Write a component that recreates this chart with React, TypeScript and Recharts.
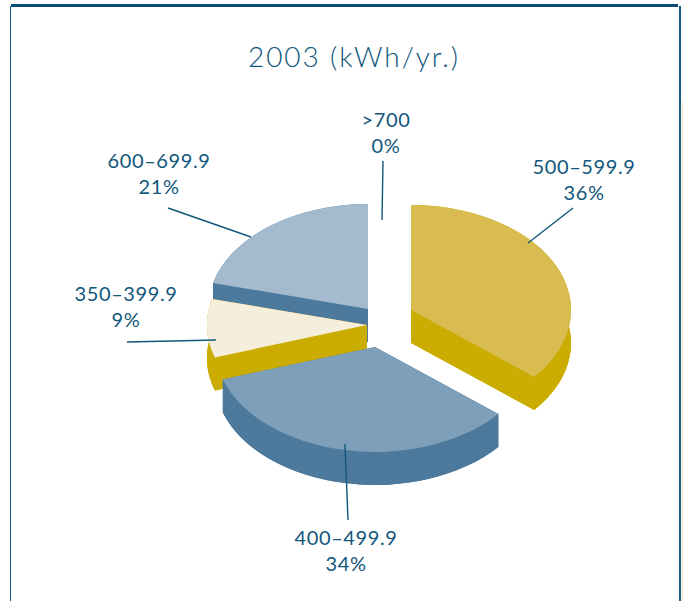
import { PieChart, Pie } from 'recharts'

// Painted back to front, going counter-clockwise from 12 o'clock
const categories = ['>700', '600–699.9', '350–399.9', '400–499.9', '500–599.9']
const shares = [0, 21, 9, 34, 36]

const topColors = ['#a4bacf', '#a4bacf', '#f5eeda', '#7d9fba', '#d8bc4f']
const sideColors = ['#4c799c', '#4c799c', '#cbac00', '#4c799c', '#cbac00']

// how far each exploded slice sits from the pie centre, in px
const offsetsX = [0, -4, -5, 3, 39]
const offsetsY = [0, -13, 3, 25, -12]

const labelCenters = [
  [386, 127],
  [159, 168],
  [126, 301],
  [346, 545],
  [584, 174],
]
const leaders = [
  [383, 161, 382, 220],
  [168, 208, 251, 237],
  [127, 342, 216, 340],
  [345, 444, 348, 520],
  [573, 208, 528, 243],
]

const data = categories.map((name, i) => ({ name, value: shares[i] }))

const INK = '#12577c'
const FONT = 'Lato, sans-serif'
const TILT = 0.656
const DEPTH = 33

function TiltedSlice(props: any) {
  const { cx, cy, outerRadius, startAngle, endAngle, index } = props
  if (endAngle - startAngle <= 0) return null

  const x0 = cx + offsetsX[index]
  const y0 = cy + offsetsY[index]
  const rx = outerRadius
  const ry = outerRadius * TILT
  const rad = Math.PI / 180
  const x1 = x0 + rx * Math.cos(startAngle * rad)
  const y1 = y0 - ry * Math.sin(startAngle * rad)
  const x2 = x0 + rx * Math.cos(endAngle * rad)
  const y2 = y0 - ry * Math.sin(endAngle * rad)
  const large = endAngle - startAngle > 180 ? 1 : 0

  const face = (dy: number) =>
    `M${x0},${y0 + dy}L${x1},${y1 + dy}A${rx},${ry} 0 ${large} 0 ${x2},${y2 + dy}Z`
  const wall = (ax: number, ay: number, bx: number, by: number) =>
    `M${ax},${ay}L${bx},${by}L${bx},${by + DEPTH}L${ax},${ay + DEPTH}Z`
  const rim =
    `M${x1},${y1}A${rx},${ry} 0 ${large} 0 ${x2},${y2}L${x2},${y2 + DEPTH}` +
    `A${rx},${ry} 0 ${large} 1 ${x1},${y1 + DEPTH}Z`

  const side = sideColors[index]
  return (
    <g>
      <path d={face(DEPTH)} fill={side} />
      <path d={wall(x0, y0, x1, y1)} fill={side} />
      <path d={wall(x0, y0, x2, y2)} fill={side} />
      <path d={rim} fill={side} />
      <path d={face(0)} fill={topColors[index]} />
    </g>
  )
}

function SliceLabel(props: any) {
  const { index, value, name } = props
  const [tx, ty] = labelCenters[index]
  const [x1, y1, x2, y2] = leaders[index]
  return (
    <g>
      <line x1={x1} y1={y1} x2={x2} y2={y2} stroke={INK} strokeWidth={1.4} />
      <text x={tx} y={ty} textAnchor="middle" fill={INK} fontFamily={FONT} fontSize={20} letterSpacing={0.6}>
        {name}
      </text>
      <text x={tx} y={ty + 26} textAnchor="middle" fill={INK} fontFamily={FONT} fontSize={20} letterSpacing={0.6}>
        {value}%
      </text>
    </g>
  )
}

export default function App() {
  return (
    <div style={{ position: 'absolute', left: 0, top: 0, width: 683, height: 601, background: '#fff', overflow: 'hidden' }}>
      {/* page frame */}
      <div style={{ position: 'absolute', left: 11, top: 4, width: 667, height: 3, background: '#0b4f78' }} />
      <div style={{ position: 'absolute', left: 10, top: 6, width: 1, height: 595, background: '#1a5f88' }} />
      <div style={{ position: 'absolute', left: 679, top: 6, width: 2, height: 595, background: '#1a5f88' }} />
      <div style={{ position: 'absolute', left: 681, top: 102, width: 2, height: 499, background: '#f5eeda' }} />
      <div style={{ position: 'absolute', left: 0, top: 0 }}>
        <PieChart width={683} height={601} margin={{ top: 0, right: 0, bottom: 0, left: 0 }}>
          <text x={354} y={67} textAnchor="middle" fill={INK} fontFamily={FONT} fontSize={28} fontWeight={300} letterSpacing={1.9}>
            2003 (kWh/yr.)
          </text>
          <Pie
            data={data}
            dataKey="value"
            nameKey="name"
            cx={372}
            cy={322}
            outerRadius={160}
            startAngle={90}
            endAngle={450}
            stroke="none"
            isAnimationActive={false}
            shape={TiltedSlice}
            label={SliceLabel}
            labelLine={false}
          />
        </PieChart>
      </div>
    </div>
  )
}
